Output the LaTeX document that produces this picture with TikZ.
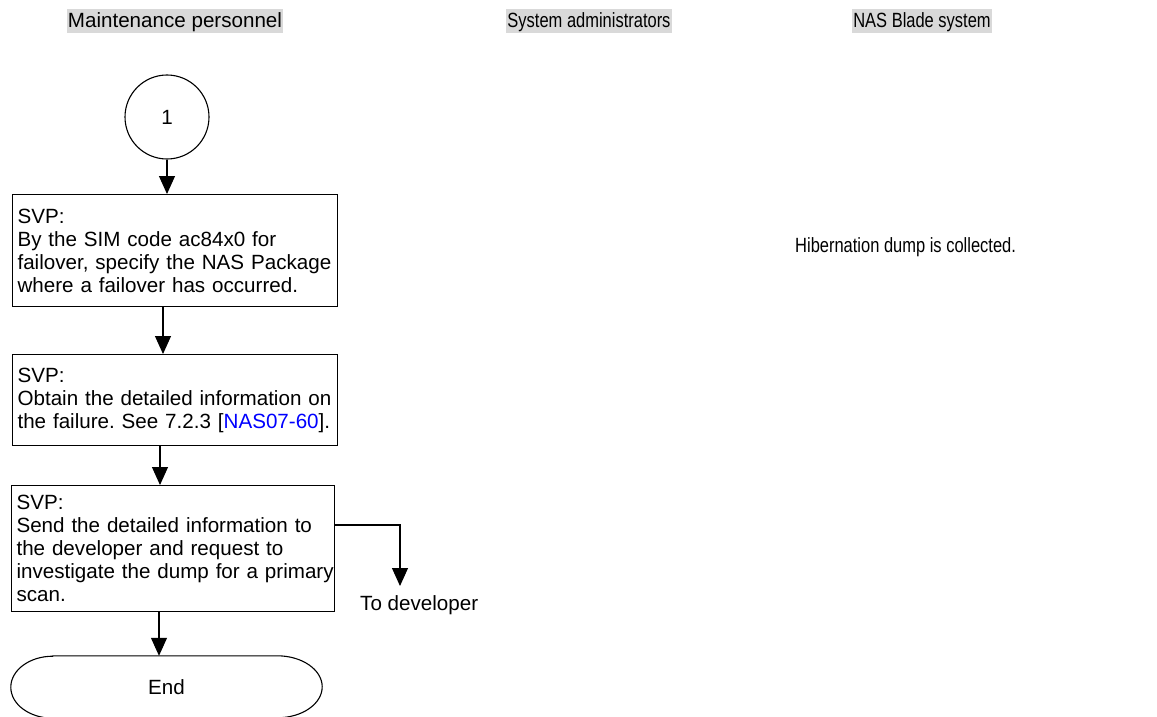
\documentclass[tikz,border=0pt]{standalone}
\usepackage{fontspec}
\setmainfont{Liberation Sans}
\usetikzlibrary{arrows.meta}
\frenchspacing
\begin{document}
\begin{tikzpicture}[x=1pt,y=-1pt,
  every node/.style={font=\fontsize{20.6pt}{23pt}\selectfont},
  lane/.style={fill=gray!30,inner xsep=1pt,inner ysep=0pt,text height=19pt,text depth=5pt},
  procbox/.style={draw,line width=1.1pt,anchor=north west,align=left,inner xsep=5pt,inner ysep=0pt},
  arr/.style={line width=1.1pt,-{Triangle[length=18pt,width=16pt]}},
  plain/.style={inner sep=0pt}]
\useasboundingbox (0,0) rectangle (1157,717);
% lane headers
\node[lane] (h1) at (175,21) {Maintenance personnel};
\node[lane] (h2) at (589,21) {\scalebox{0.8}[1]{System administrators}};
\node[lane] (h3) at (922,21) {\scalebox{0.8}[1]{NAS Blade system}};
% connector symbol
\node[draw,circle,line width=1.1pt,minimum size=84pt,inner sep=0pt] (c1) at (167,117) {1};
% process boxes
\node[procbox,text width=315pt,minimum height=112pt] (b1) at (12,194)
  {SVP:\\By the SIM code ac84x0 for\\\mbox{failover, specify the NAS Package}\\where a failover has occurred.};
\node[procbox,text width=315pt,minimum height=91pt] (b2) at (12,354)
  {SVP:\\\mbox{Obtain the detailed information on}\\the failure. See 7.2.3 [\textcolor{blue}{NAS07-60}].};
\node[procbox,text width=313pt,minimum height=126pt] (b3) at (11,485)
  {SVP:\\Send the detailed information to\\the developer and request to\\\mbox{investigate the dump for a primary}\\scan.};
% terminator
\node[plain,minimum width=311pt,minimum height=62pt] (e) at (166.5,687) {End};
\draw[line width=1.1pt] ([xshift=42pt]e.north west) -- ([xshift=-45pt]e.north east)
  arc[start angle=90,end angle=-90,x radius=45pt,y radius=31pt]
  -- ([xshift=42pt]e.south west)
  arc[start angle=270,end angle=90,x radius=42pt,y radius=31pt] -- cycle;
% texts
\node[plain,anchor=west] (dev) at (360,605) {To developer};
\node[plain,anchor=west] (hib) at (795,247) {\scalebox{0.8}[1]{Hibernation dump is collected.}};
% helper coordinates
\coordinate (x163) at (163,0);
\coordinate (x160) at (160,0);
\coordinate (x159) at (159,0);
\coordinate (y525) at (0,525);
\coordinate (devtip) at (400,586);
% connectors
\draw[arr] (c1.south) -- (c1.south |- b1.north);
\draw[arr] (b1.south -| x163) -- (b2.north -| x163);
\draw[arr] (b2.south -| x160) -- (b3.north -| x160);
\draw[arr] (b3.south -| x159) -- (e.north -| x159);
\draw[arr] (b3.east |- y525) -| (devtip);
\end{tikzpicture}
\end{document}
